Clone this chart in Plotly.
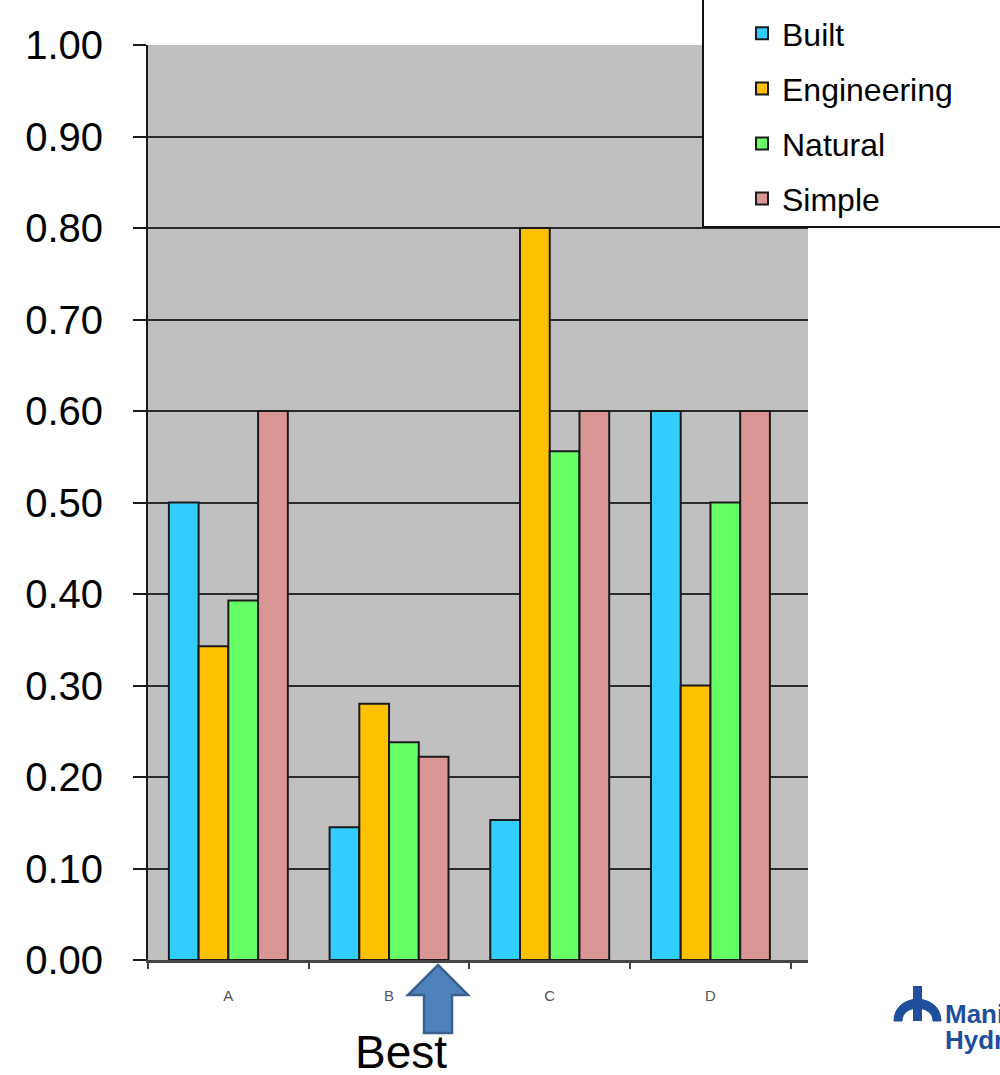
import plotly.graph_objects as go

# Scores per option and criterion
categories = ["A", "B", "C", "D"]
built = [0.50, 0.145, 0.153, 0.60]
engineering = [0.343, 0.28, 0.80, 0.30]
natural = [0.393, 0.238, 0.556, 0.50]
simple = [0.60, 0.222, 0.60, 0.60]

series = [
    ("Built", built, "#33CCFF"),
    ("Engineering", engineering, "#FFC000"),
    ("Natural", natural, "#66FF66"),
    ("Simple", simple, "#DA9694"),
]

W, H = 1000, 1075
L, R, T, B = 148, 808, 45, 960  # plot area in pixels


def px(x):
    return (x - L) / (R - L)


def py(y):
    return (B - y) / (B - T)


fig = go.Figure()
for name, vals, col in series:
    fig.add_trace(go.Bar(
        x=categories, y=vals, name=name, legendgroup=name,
        marker=dict(color=col, line=dict(color="#1a1a1a", width=2)),
    ))

shapes = [
    # white legend panel at top right
    dict(type="rect", xref="paper", yref="paper", layer="above",
         x0=px(703), x1=px(1010), y0=py(227), y1=py(-10),
         fillcolor="white", line=dict(color="#111111", width=2)),
    # "Best" pointer arrow
    dict(type="path", xref="paper", yref="paper", layer="above",
         path=("M {a},{b} L {c},{d} L {e},{d} L {e},{f} L {g},{f} L {g},{d} L {h},{d} Z").format(
             a=px(438), b=py(965), c=px(468), d=py(995), e=px(452),
             f=py(1033), g=px(424), h=px(408)),
         fillcolor="#4F81BD", line=dict(color="#3A6090", width=2.5)),
    # logo emblem: arch with a stem
    dict(type="path", xref="paper", yref="paper", layer="above",
         path=("M {x0},{y0} C {x0},{yt} {x1},{yt} {x1},{y0} L {x1b},{y0} "
               "C {x1b},{yi} {x0b},{yi} {x0b},{y0} Z").format(
             x0=px(894), x1=px(941), yt=py(992), y0=py(1021),
             x1b=px(933), x0b=px(902), yi=py(1004)),
         fillcolor="#1F4E9C", line=dict(color="#1F4E9C", width=1)),
    dict(type="rect", xref="paper", yref="paper", layer="above",
         x0=px(913), x1=px(922), y0=py(1021), y1=py(986),
         fillcolor="#1F4E9C", line=dict(width=0)),
]

annotations = [
    dict(text="Best", xref="paper", yref="paper", x=px(401), y=py(1052),
         xanchor="center", yanchor="middle", showarrow=False,
         font=dict(family="Liberation Sans Narrow, Liberation Sans", size=46, color="black")),
    dict(text="<b>Manitoba</b>", xref="paper", yref="paper", x=px(943), y=py(1014),
         xanchor="left", yanchor="middle", showarrow=False,
         font=dict(family="Liberation Sans", size=26, color="#1F4E9C")),
    dict(text="<b>Hydro</b>", xref="paper", yref="paper", x=px(943), y=py(1040),
         xanchor="left", yanchor="middle", showarrow=False,
         font=dict(family="Liberation Sans", size=26, color="#1F4E9C")),
]

fig.update_layout(
    width=W, height=H,
    margin=dict(l=L, r=W - R, t=T, b=H - B, pad=0, autoexpand=False),
    paper_bgcolor="white", plot_bgcolor="#C0C0C0",
    barmode="group", bargap=0.26, bargroupgap=0,
    font=dict(family="Liberation Sans, Arial", color="black"),
    showlegend=True,
    legend=dict(x=px(742), y=py(6), xanchor="left", yanchor="top",
                bgcolor="rgba(0,0,0,0)", borderwidth=0,
                font=dict(size=32, color="black"), tracegroupgap=10.5,
                itemsizing="constant"),
    shapes=shapes, annotations=annotations,
)

fig.update_yaxes(
    range=[0, 1], dtick=0.1, tick0=0, tickformat=".2f", automargin=False,
    showgrid=True, gridcolor="#2b2b2b", gridwidth=2,
    ticks="outside", ticklen=13, tickwidth=2, tickcolor="#1a1a1a",
    showline=True, linecolor="#1a1a1a", linewidth=2,
    tickfont=dict(size=40, color="black"), ticklabelstandoff=22,
    zeroline=False,
)
fig.update_xaxes(
    range=[-0.5, 3.607], showgrid=False, tickson="boundaries", automargin=False,
    ticks="outside", ticklen=6, tickwidth=2, tickcolor="#444444",
    showline=True, linecolor="#444444", linewidth=3,
    tickfont=dict(size=15, color="#555555"), ticklabelstandoff=20,
)

fig.write_html("out.html")
